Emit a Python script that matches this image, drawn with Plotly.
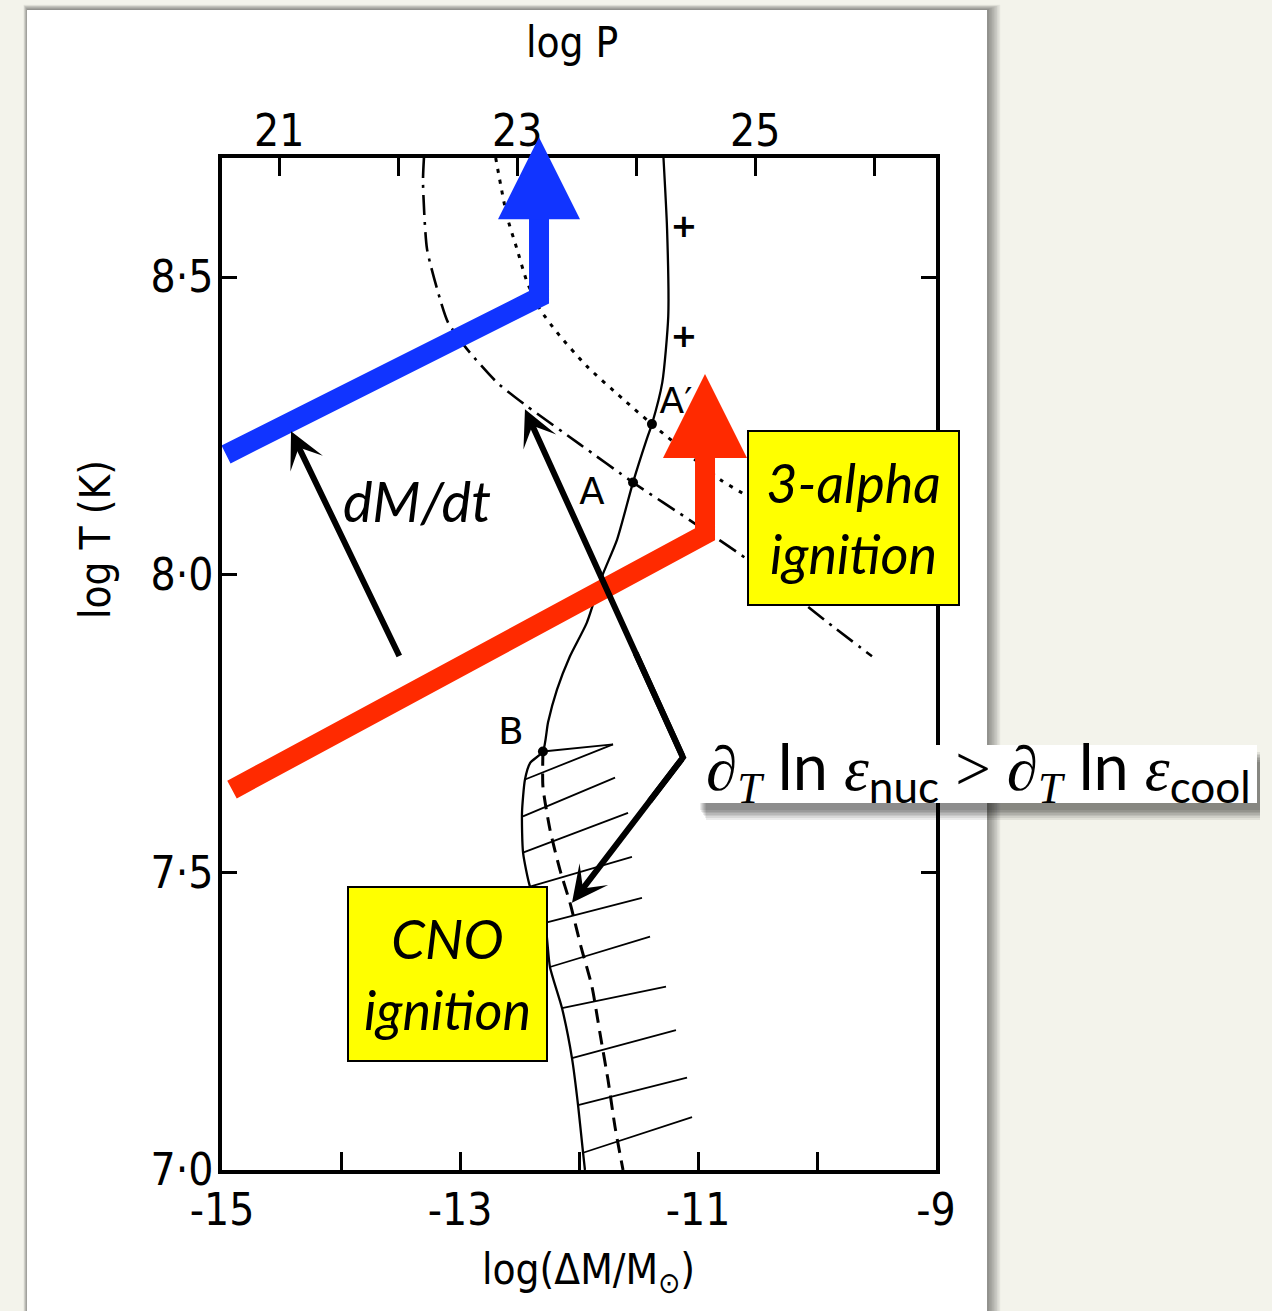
import plotly.graph_objects as go

# ---------------- axes / ticks ----------------
X_RANGE = [-15, -9]
Y_RANGE = [7.0, 8.70]
LOGP_MINUS_LOGDM = 35.52          # log P = log(dM/Msun) + const (top axis)

x_tickvals = [-15, -14, -13, -12, -11, -10, -9]
x_ticktext = ["-15", "", "-13", "", "-11", "", "-9"]
p_tickvals = [21, 22, 23, 24, 25, 26]
p_ticktext = ["21", "", "23", "", "25", ""]
y_tickvals = [7.0, 7.5, 8.0, 8.5]
y_ticktext = ["7·0", "7·5", "8·0", "8·5"]

# ---------------- curves (log dM, log T) ----------------
solid_x = [-11.29, -11.26, -11.25, -11.30, -11.387, -11.43, -11.546, -11.68, -11.807,
           -11.933, -12.076, -12.185, -12.26, -12.303, -12.41, -12.454, -12.479, -12.47,
           -12.412, -12.286, -12.244, -12.143, -12.059, -12.008, -11.966, -11.95]
solid_y = [8.70, 8.581, 8.434, 8.323, 8.253, 8.228, 8.155, 8.059, 7.997,
           7.920, 7.863, 7.807, 7.752, 7.703, 7.684, 7.656, 7.600, 7.533,
           7.476, 7.415, 7.341, 7.272, 7.188, 7.109, 7.029, 7.0]

dashdot_x = [-13.303, -13.311, -13.277, -13.168, -13.101, -12.941, -12.689, -12.437,
             -11.992, -11.546, -11.042, -10.588, -9.866, -9.538]
dashdot_y = [8.70, 8.660, 8.547, 8.463, 8.424, 8.379, 8.323, 8.283,
             8.219, 8.155, 8.088, 8.026, 7.913, 7.863]

dotted_x = [-12.70, -12.605, -12.521, -12.437, -12.328, -12.185, -11.933, -11.63,
            -11.387, -10.815, -10.588, -10.45]
dotted_y = [8.70, 8.602, 8.547, 8.492, 8.446, 8.407, 8.350, 8.295,
            8.253, 8.160, 8.132, 8.11]

dashed_x = [-12.303, -12.303, -12.244, -12.160, -12.076, -11.983, -11.891, -11.824,
            -11.756, -11.697, -11.630]
dashed_y = [7.703, 7.644, 7.572, 7.504, 7.449, 7.375, 7.308, 7.230,
            7.151, 7.072, 7.0]

hatch_x0 = [-12.303, -11.714, -11.697, -11.588, -11.555, -11.471, -11.403, -11.269, -11.185, -11.092, -11.05]
hatch_y0 = [7.703, 7.715, 7.659, 7.600, 7.526, 7.457, 7.392, 7.308, 7.235, 7.155, 7.089]
hatch_x1 = [-11.714, -12.454, -12.471, -12.471, -12.412, -12.286, -12.244, -12.143, -12.059, -12.008, -11.966]
hatch_y1 = [7.715, 7.656, 7.594, 7.533, 7.476, 7.415, 7.341, 7.272, 7.188, 7.109, 7.029]

dot_x = [-11.387, -11.546, -12.303]
dot_y = [8.253, 8.155, 7.703]

label_text = ["A′", "A", "B", "<b>+</b>", "<b>+</b>"]
label_x = [-11.185, -11.891, -12.571, -11.118, -11.118]
label_y = [8.286, 8.135, 7.731, 8.581, 8.396]

# ---------------- overlay arrows ----------------
blue_x = [-14.966, -12.336, -12.336]
blue_y = [8.202, 8.466, 8.601]
blue_tip = [-12.336, 8.735]
red_x = [-14.916, -10.941, -10.941]
red_y = [7.639, 8.068, 8.199]
red_tip = [-10.941, 8.337]

dmdt_tail = [-13.504, 7.861]
dmdt_tip = [-14.42, 8.241]
path_up_tip = [-12.454, 8.278]
path_corner = [-11.126, 7.693]
path_down_tip = [-12.059, 7.449]

BLUE = "#1134ff"
RED = "#ff2a00"
NARROW = "Liberation Sans Narrow, DejaVu Sans Condensed, Arial Narrow, DejaVu Sans, sans-serif"
GILL = "Lato, Open Sans, sans-serif"

# ---------------- figure geometry (layout only) ----------------
FIG_W, FIG_H = 1272, 1311
M_L, M_R, M_T, M_B = 222, 336, 158, 141
PW = FIG_W - M_L - M_R
PH = FIG_H - M_T - M_B


def pxx(x):
    return (x - M_L) / PW


def pxy(y):
    return (FIG_H - M_B - y) / PH


fig = go.Figure()

fig.add_trace(go.Scatter(x=solid_x, y=solid_y, mode="lines",
                         line=dict(color="black", width=2.3, shape="spline", smoothing=0.6),
                         hoverinfo="skip", showlegend=False))
fig.add_trace(go.Scatter(x=dashdot_x, y=dashdot_y, mode="lines",
                         line=dict(color="black", width=2.6, dash="20px,7px,3px,7px",
                                   shape="spline", smoothing=0.6),
                         hoverinfo="skip", showlegend=False))
fig.add_trace(go.Scatter(x=dotted_x, y=dotted_y, mode="lines",
                         line=dict(color="black", width=3, dash="4px,7px",
                                   shape="spline", smoothing=0.6),
                         hoverinfo="skip", showlegend=False))
fig.add_trace(go.Scatter(x=dashed_x, y=dashed_y, mode="lines",
                         line=dict(color="black", width=3, dash="14px,8px",
                                   shape="spline", smoothing=0.6),
                         hoverinfo="skip", showlegend=False))

hx, hy = [], []
for a, b, c, d in zip(hatch_x0, hatch_y0, hatch_x1, hatch_y1):
    hx += [a, c, None]
    hy += [b, d, None]
fig.add_trace(go.Scatter(x=hx, y=hy, mode="lines", line=dict(color="black", width=1.8),
                         hoverinfo="skip", showlegend=False))

fig.add_trace(go.Scatter(x=dot_x, y=dot_y, mode="markers",
                         marker=dict(color="black", size=10),
                         hoverinfo="skip", showlegend=False))
fig.add_trace(go.Scatter(x=label_x, y=label_y, mode="text", text=label_text,
                         textfont=dict(family="DejaVu Sans, sans-serif",
                                       size=[36, 37, 37, 32, 32], color="black"),
                         hoverinfo="skip", showlegend=False, cliponaxis=False))

# colored thick paths
fig.add_trace(go.Scatter(x=blue_x, y=blue_y, mode="lines", line=dict(color=BLUE, width=20),
                         hoverinfo="skip", showlegend=False))
fig.add_trace(go.Scatter(x=red_x, y=red_y, mode="lines", line=dict(color=RED, width=20),
                         hoverinfo="skip", showlegend=False))

# corner of the black path (sharp join)
f = 0.3
cx = [path_corner[0] + f * (path_up_tip[0] - path_corner[0]), path_corner[0],
      path_corner[0] + f * (path_down_tip[0] - path_corner[0])]
cy = [path_corner[1] + f * (path_up_tip[1] - path_corner[1]), path_corner[1],
      path_corner[1] + f * (path_down_tip[1] - path_corner[1])]
fig.add_trace(go.Scatter(x=cx, y=cy, mode="lines", line=dict(color="black", width=6),
                         hoverinfo="skip", showlegend=False))

# invisible trace to activate top axis
fig.add_trace(go.Scatter(x=[p_tickvals[0]], y=[Y_RANGE[0]], xaxis="x2", mode="markers",
                         marker=dict(opacity=0), hoverinfo="skip", showlegend=False))

annotations = []


def arrow(tip, tail, color, width, head, size):
    annotations.append(dict(x=tip[0], y=tip[1], ax=tail[0], ay=tail[1],
                            xref="x", yref="y", axref="x", ayref="y", text="",
                            showarrow=True, arrowhead=head, arrowsize=size,
                            arrowwidth=width, arrowcolor=color))


arrow(blue_tip, [blue_x[-1], blue_y[-1]], BLUE, 20, 2, 0.82)
arrow(red_tip, [red_x[-1], red_y[-1]], RED, 20, 2, 0.84)
arrow(dmdt_tip, dmdt_tail, "black", 6, 3, 1.0)
arrow(path_up_tip, path_corner, "black", 6, 3, 1.0)
arrow(path_down_tip, path_corner, "black", 6, 3, 1.0)


def label(x, y, text, font, **kw):
    d = dict(xref="paper", yref="paper", x=pxx(x), y=pxy(y), text=text, showarrow=False,
             xanchor="center", yanchor="middle", font=font)
    d.update(kw)
    annotations.append(d)


label(417, 500, "<i>dM/dt</i>", dict(family=GILL, size=56, color="black"))
label(853.5, 518, "<i>3-alpha<br>ignition</i>", dict(family=GILL, size=54, color="black"),
      bgcolor="#ffff00", bordercolor="black", borderwidth=2, borderpad=0,
      width=209, height=172, align="center", valign="middle")
label(447.5, 974, "<i>CNO<br>ignition</i>", dict(family=GILL, size=54, color="black"),
      bgcolor="#ffff00", bordercolor="black", borderwidth=2, borderpad=0,
      width=197, height=172, align="center", valign="middle")

# formula box: shadow, white box, then the text on top
for k in range(7):
    label(980 + 0.5 * k, 781 + 1.6 * k, " ", dict(size=10), bgcolor="rgba(0,0,0,0.08)",
          width=560 - k, height=58, borderpad=0, borderwidth=0)
label(977, 774, " ", dict(size=10), bgcolor="white", width=560, height=58,
      borderpad=0, borderwidth=0)

S = "<span style=\"font-family:'Liberation Serif','DejaVu Serif',serif\">"
formula = (S + "<i>∂</i><sub><i>T</i></sub></span> ln " + S + "<i>ε</i></span><sub>nuc</sub> "
           + S + "&gt;</span> " + S + "<i>∂</i><sub><i>T</i></sub></span> ln " + S
           + "<i>ε</i></span><sub>cool</sub>")
label(978, 770, formula, dict(family=GILL, size=63, color="black"))

# axis titles
label(572, 42, "log P", dict(family=NARROW, size=42, color="black"))
label(95, 540, "log T (K)", dict(family=NARROW, size=42, color="black"), textangle=-90)
label(588, 1272, "log(ΔM/M<sub>⊙</sub>)", dict(family=NARROW, size=42, color="black"))

shapes = []
# card shadow + card
for k in range(8):
    shapes.append(dict(type="rect", xref="paper", yref="paper", layer="below",
                       x0=pxx(27 - 0.5 * k), x1=pxx(989 + 1.6 * k), y0=pxy(1330), y1=pxy(9 - 0.6 * k),
                       fillcolor="black", opacity=0.06, line=dict(width=0)))
shapes.append(dict(type="rect", xref="paper", yref="paper", layer="below",
                   x0=pxx(27), x1=pxx(987), y0=pxy(1330), y1=pxy(10),
                   fillcolor="white", line=dict(width=0)))

axis_common = dict(showgrid=False, zeroline=False, ticks="inside", tickwidth=3,
                   tickcolor="black", showline=True, linewidth=3.5, linecolor="black",
                   tickfont=dict(family=NARROW, size=44, color="black"))

fig.update_layout(
    width=FIG_W, height=FIG_H, autosize=False,
    margin=dict(l=M_L, r=M_R, t=M_T, b=M_B, pad=0),
    paper_bgcolor="#f3f3eb", plot_bgcolor="white",
    showlegend=False,
    xaxis=dict(range=X_RANGE, tickmode="array", tickvals=x_tickvals, ticktext=x_ticktext,
               ticklen=18, mirror=True, ticklabelstandoff=-2, **axis_common),
    xaxis2=dict(range=[X_RANGE[0] + LOGP_MINUS_LOGDM, X_RANGE[1] + LOGP_MINUS_LOGDM],
                overlaying="x", side="top", anchor="y", tickmode="array",
                tickvals=p_tickvals, ticktext=p_ticktext, ticklen=18,
                ticklabelstandoff=-9, **axis_common),
    yaxis=dict(range=Y_RANGE, tickmode="array", tickvals=y_tickvals, ticktext=y_ticktext,
               ticklen=15, mirror="ticks", ticklabelstandoff=-4, **axis_common),
    annotations=annotations,
    shapes=shapes,
)

fig.write_html("out.html", config={"displayModeBar": False},
               post_script="document.body.style.margin='0px';")
